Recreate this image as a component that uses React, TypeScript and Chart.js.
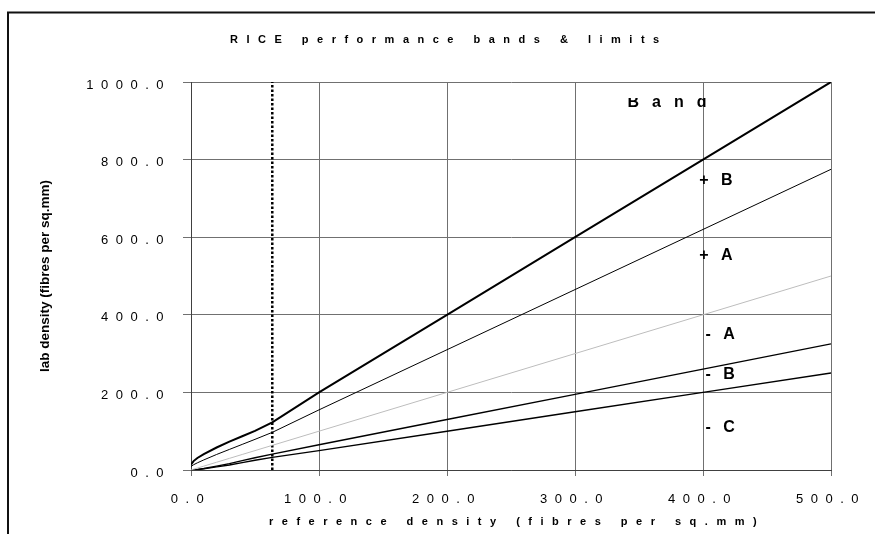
import React, { useEffect, useRef } from "react";
import { Chart, registerables } from "chart.js";

Chart.register(...registerables);

// ---- data ----
const referenceDensity = [0, 2, 5, 10, 20, 30, 40, 50, 63.5, 100, 200, 300, 400, 500];
const upperOuterLimit = [14, 23, 31, 41, 58, 73, 87, 101, 123, 200, 400, 600, 800, 1000];
const upperInnerLimit = [9, 13.5, 18.5, 26, 40, 53, 66, 79, 97, 155, 310, 465, 620, 775];
const referenceLine = [0, 2, 5, 10, 20, 30, 40, 50, 63.5, 100, 200, 300, 400, 500];
const lowerInnerLimit = [0, 0.2, 1.3, 3.8, 10, 16.5, 24, 31.5, 41, 65, 130, 195, 260, 325];
const lowerOuterLimit = [0, 0.2, 1, 3, 8, 13, 19, 25, 32.5, 50, 100, 150, 200, 250];
const cutoffDensity = 63.5;

const xTickValues = [0, 100, 200, 300, 400, 500];
const yTickValues = [0, 200, 400, 600, 800, 1000];

const chartTitle = "RICE performance bands & limits";
const xAxisTitle = "reference density (fibres per sq.mm)";
const yAxisTitle = "lab density (fibres per sq.mm)";

const bandLabels = ["Band", "+ B", "+ A", "- A", "- B", "- C"];
const bandLabelX = [341, 397, 397, 402, 402, 402];
const bandLabelY = [946, 745, 552, 348, 245, 109];

const FONT = "'Liberation Sans', Arial, sans-serif";

function drawSpaced(
  ctx: CanvasRenderingContext2D,
  text: string,
  x: number,
  y: number,
  L: number,
  W: number,
  align: "left" | "center" | "right",
  trailing = false
) {
  const chars = Array.from(text);
  const widths = chars.map((c) => ctx.measureText(c).width);
  let total = 0;
  chars.forEach((c, i) => {
    total += widths[i] + (c === " " ? W : 0);
    if (i < chars.length - 1 || trailing) total += L;
  });
  let cx = align === "left" ? x : align === "center" ? x - total / 2 : x - total;
  ctx.textAlign = "left";
  chars.forEach((c, i) => {
    ctx.fillText(c, cx, y);
    cx += widths[i] + L + (c === " " ? W : 0);
  });
}

const textPlugin = {
  id: "rice-text",
  afterDraw(chart: any) {
    const ctx: CanvasRenderingContext2D = chart.ctx;
    const xs = chart.scales.x;
    const ys = chart.scales.y;
    ctx.save();
    // outer frame
    ctx.strokeStyle = "#111";
    ctx.lineWidth = 2;
    ctx.beginPath();
    ctx.moveTo(8, 540);
    ctx.lineTo(8, 12.5);
    ctx.lineTo(880, 12.5);
    ctx.stroke();

    ctx.fillStyle = "#000";
    ctx.textBaseline = "alphabetic";

    // title
    ctx.font = `bold 11px ${FONT}`;
    drawSpaced(ctx, chartTitle, 230, 43, 8.5, 0, "left");

    // y tick labels
    ctx.font = `13px ${FONT}`;
    yTickValues.forEach((v) => {
      const py = ys.getPixelForValue(v);
      drawSpaced(ctx, v.toFixed(1), 163.5, py + 6.5, 7.5, 0, "right");
    });
    // x tick labels
    xTickValues.forEach((v) => {
      const px = xs.getPixelForValue(v);
      drawSpaced(ctx, v.toFixed(1), px, 503, 7.5, 0, "center", true);
    });

    // x axis title
    ctx.font = `bold 11px ${FONT}`;
    drawSpaced(ctx, xAxisTitle, 269, 525, 8.5, 0, "left");

    // y axis title
    ctx.save();
    ctx.translate(45, (chart.chartArea.top + chart.chartArea.bottom) / 2);
    ctx.rotate(-Math.PI / 2);
    ctx.font = `bold 13.5px ${FONT}`;
    ctx.textAlign = "center";
    ctx.textBaseline = "middle";
    ctx.fillText(yAxisTitle, 0, 0);
    ctx.restore();

    // band labels
    ctx.font = `bold 16px ${FONT}`;
    ctx.textBaseline = "middle";
    bandLabels.forEach((t, i) => {
      const px = xs.getPixelForValue(bandLabelX[i]);
      const py = ys.getPixelForValue(bandLabelY[i]);
      if (i === 0) {
        ctx.save();
        ctx.beginPath();
        ctx.rect(px - 5, py - 5, 200, 40);
        ctx.clip();
        drawSpaced(ctx, t, px, py, 13, 0, "left");
        ctx.restore();
      } else {
        drawSpaced(ctx, t, px, py, 4, 0, "left");
      }
    });
    ctx.restore();
  },
};

export default function App() {
  const ref = useRef<HTMLCanvasElement | null>(null);
  useEffect(() => {
    if (!ref.current) return;
    const pts = (ys: number[]) => referenceDensity.map((x, i) => ({ x, y: ys[i] }));
    const chart = new Chart(ref.current, {
      type: "line",
      data: {
        datasets: [
          { data: pts(upperOuterLimit), borderColor: "#000", borderWidth: 2 },
          { data: pts(upperInnerLimit), borderColor: "#000", borderWidth: 1 },
          { data: pts(referenceLine), borderColor: "#bdbdbd", borderWidth: 1 },
          { data: pts(lowerInnerLimit), borderColor: "#000", borderWidth: 1.4 },
          { data: pts(lowerOuterLimit), borderColor: "#000", borderWidth: 1.4 },
          {
            data: [
              { x: cutoffDensity, y: 0 },
              { x: cutoffDensity, y: 1000 },
            ],
            borderColor: "#000",
            borderWidth: 2.5,
            borderDash: [2.5, 2],
          },
        ],
      },
      options: {
        animation: false,
        responsive: false,
        events: [],
        layout: { padding: { left: 183, right: 44, top: 82, bottom: 58 } },
        elements: { point: { radius: 0 }, line: { tension: 0 } },
        plugins: { legend: { display: false }, tooltip: { enabled: false }, title: { display: false } },
        scales: {
          x: {
            type: "linear",
            min: 0,
            max: 500,
            ticks: { stepSize: 100, display: false },
            grid: { color: "#707070", lineWidth: 1, tickLength: 6 },
            border: { color: "#404040", width: 1 },
          },
          y: {
            type: "linear",
            min: 0,
            max: 1000,
            ticks: { stepSize: 200, display: false },
            grid: { color: "#707070", lineWidth: 1, tickLength: 8 },
            border: { color: "#404040", width: 1 },
          },
        },
      },
      plugins: [textPlugin],
    });
    return () => chart.destroy();
  }, []);
  return (
    <canvas
      ref={ref}
      width={875}
      height={534}
      style={{ position: "absolute", left: 0, top: 0, width: 875, height: 534, background: "#fff" }}
    />
  );
}
